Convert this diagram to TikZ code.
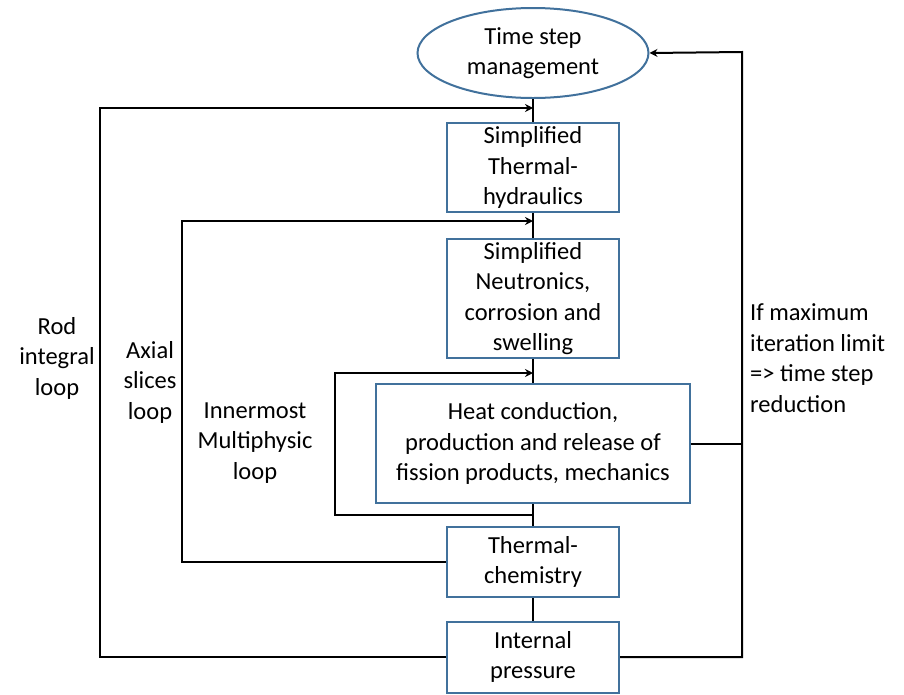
\documentclass[tikz,border=0pt]{standalone}
\usepackage{fontspec}
\setmainfont{Carlito}
\usetikzlibrary{shapes.geometric,arrows.meta}
\definecolor{boxblue}{RGB}{65,113,156}
\tikzset{
  txt/.style={font=\fontsize{24.5}{30.5}\selectfont, align=center, inner sep=0pt},
  procbox/.style={txt, draw=boxblue, line width=2pt, fill=white},
  conn/.style={line width=2pt, black},
  arr/.style={conn, -{Stealth[length=8pt,width=8pt]}},
}
\begin{document}
\begin{tikzpicture}[x=1pt,y=-1pt]
\useasboundingbox (0,0) rectangle (904,694);
\node[procbox, ellipse, minimum width=231pt, minimum height=90pt] (tsm) at (533,53) {Time step\\management};
\node[procbox, minimum width=172pt, minimum height=89pt] (th) at (533,167.5) {Simplified\\Thermal-\\hydraulics};
\node[procbox, minimum width=172pt, minimum height=119pt] (neu) at (533,298.5) {Simplified\\Neutronics,\\corrosion and\\swelling};
\node[procbox, minimum width=314pt, minimum height=119pt] (heat) at (533,443.5) {Heat conduction,\\production and release of\\fission products, mechanics};
\node[procbox, minimum width=172pt, minimum height=70pt] (chem) at (533,562) {Thermal-\\chemistry};
\node[procbox, minimum width=172pt, minimum height=71pt] (press) at (533,657) {Internal\\pressure};

\node[txt] (lrod) at (57,358) {Rod\\integral\\loop};
\node[txt] (lax) at (150,382) {Axial\\slices\\loop};
\node[txt] (linn) at (255,443) {Innermost\\Multiphysic\\loop};
\node[txt, align=left, anchor=west] (lmax) at (750,358) {If maximum\\iteration limit\\=> time step\\reduction};

% coordinates
\coordinate (j1) at (533,108);
\coordinate (j2) at (533,221);
\coordinate (j3) at (533,373);
\coordinate (j4) at (533,515);
\coordinate (rodB) at (100,657);
\coordinate (rodT) at (100,108);
\coordinate (axB) at (182,562);
\coordinate (axT) at (182,221);
\coordinate (inB) at (335,515);
\coordinate (inT) at (335,373);
\coordinate (rB) at (742,657);
\coordinate (rT) at (742,52);
\coordinate (rM) at (742,443.5);

% vertical chain
\draw[conn] (tsm.south) -- (th.north);
\draw[conn] (th.south) -- (neu.north);
\draw[conn] (neu.south) -- (heat.north);
\draw[conn] (heat.south) -- (chem.north);
\draw[conn] (chem.south) -- (press.north);

% loops
\draw[arr] (press.west) -- (rodB) -- (rodT) -- (j1);
\draw[arr] (chem.west) -- (axB) -- (axT) -- (j2);
\draw[arr] (j4) -- (inB) -- (inT) -- (j3);
\draw[arr] (press.east) -- (rB) -- (rT) -- (tsm.east);
\draw[conn] (heat.east) -- (rM);
\end{tikzpicture}
\end{document}
